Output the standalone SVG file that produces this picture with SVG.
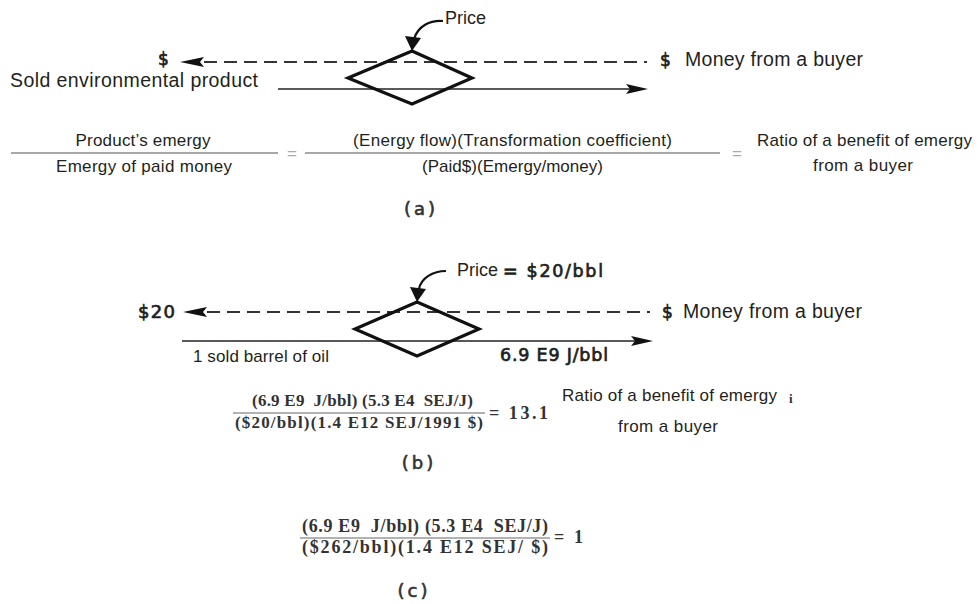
<svg xmlns="http://www.w3.org/2000/svg" width="978" height="604" viewBox="0 0 978 604">
<style>
.sans{font-family:"Liberation Sans",Arial,sans-serif;fill:#231f20}
.bold{font-family:"DejaVu Sans","Open Sans",sans-serif;fill:#231f20;stroke:#231f20;stroke-width:0.7}
.serif{font-family:"Liberation Serif","Times New Roman",serif;font-weight:bold;fill:#333}
.lbl{font-family:"DejaVu Sans","Open Sans",sans-serif;fill:#333;font-size:18px;letter-spacing:3px;stroke:#333;stroke-width:0.6}
.dash{stroke:#333;stroke-width:2;stroke-dasharray:13 7;fill:none}
.flow{stroke:#222;stroke-width:1.6;fill:none}
.head{fill:#111}
.frac{stroke:#a8a8a8;stroke-width:2}
.frac2{stroke:#999;stroke-width:1.6}
.dia{fill:none;stroke:#111;stroke-width:3.2;stroke-linejoin:miter}
.curve{fill:none;stroke:#111;stroke-width:2.2}
.eq{font-family:"Liberation Sans",Arial,sans-serif;fill:#aaa;font-size:17px}
</style>

<g id="connectors">
  <!-- (a) -->
  <path class="curve" d="M443,21 C430,20 418,26 414,39"/>
  <polygon class="head" points="412,51 405,36 421,38"/>
  <path class="dash" d="M204,62 H647"/>
  <polygon class="head" points="180,62 204,57 200,62 204,67"/>
  <path class="flow" d="M278,89 H630"/>
  <polygon class="head" points="648,89 626,84 630,89 626,94"/>
  <!-- (b) -->
  <path class="curve" d="M446,271 C433,271 421,278 419,289"/>
  <polygon class="head" points="417,302 410,287 426,289"/>
  <path class="dash" d="M207,312 H650"/>
  <polygon class="head" points="183,312 207,307 203,312 207,317"/>
  <path class="flow" d="M182,341 H635"/>
  <polygon class="head" points="653,341 631,336 635,341 631,346"/>
</g>

<g id="price-a">
  <polygon class="dia" points="412,51 472,78 412,104 348,78"/>
  <text class="sans" x="445" y="24" font-size="18" textLength="41">Price</text>
</g>
<g id="seller-a">
  <text class="bold" x="158" y="65" font-size="17">$</text>
  <text class="sans" x="10" y="87" font-size="19.5" textLength="248">Sold environmental product</text>
</g>
<g id="buyer-a">
  <text class="bold" x="660" y="66" font-size="17">$</text>
  <text class="sans" x="685" y="66" font-size="19.5" textLength="178">Money from a buyer</text>
</g>
<g id="equation-a">
  <line class="frac" x1="11" y1="153" x2="278" y2="153"/>
  <line class="frac" x1="305" y1="153" x2="720" y2="153"/>
  <text class="sans" x="143" y="146" font-size="17" text-anchor="middle" textLength="135">Product’s emergy</text>
  <text class="sans" x="144" y="172" font-size="17" text-anchor="middle" textLength="176">Emergy of paid money</text>
  <text class="eq" x="292" y="159" text-anchor="middle">=</text>
  <text class="sans" x="512.5" y="146" font-size="17" text-anchor="middle" textLength="319">(Energy flow)(Transformation coefficient)</text>
  <text class="sans" x="512.5" y="172" font-size="17" text-anchor="middle" textLength="181">(Paid$)(Emergy/money)</text>
  <text class="eq" x="737" y="159" text-anchor="middle">=</text>
  <text class="sans" x="757" y="146" font-size="17" textLength="215">Ratio of a benefit of emergy</text>
  <text class="sans" x="813" y="171" font-size="17" textLength="100">from a buyer</text>
  <text class="lbl" x="421" y="215" text-anchor="middle">(a)</text>
</g>

<g id="price-b">
  <polygon class="dia" points="417,302 479,329 417,356 355,329"/>
  <text class="sans" x="457" y="276" font-size="18" textLength="41">Price</text>
  <text class="bold" x="503" y="277" font-size="17.5" textLength="100">= $20/bbl</text>
</g>
<g id="seller-b">
  <text class="bold" x="138" y="318" font-size="18" textLength="37">$20</text>
  <text class="sans" x="193" y="362" font-size="17" textLength="136">1 sold barrel of oil</text>
</g>
<g id="buyer-b">
  <text class="bold" x="662" y="318" font-size="17">$</text>
  <text class="sans" x="683" y="318" font-size="19.5" textLength="179">Money from a buyer</text>
  <text class="bold" x="500" y="361" font-size="17.5" textLength="108">6.9 E9 J/bbl</text>
</g>
<g id="equation-b">
  <line class="frac2" x1="233" y1="413" x2="485" y2="413"/>
  <text class="serif" x="252" y="406" font-size="17" textLength="221" xml:space="preserve">(6.9 E9  J/bbl) (5.3 E4  SEJ/J)</text>
  <text class="serif" x="235" y="428" font-size="17" textLength="248">($20/bbl)(1.4 E12 SEJ/1991 $)</text>
  <text class="serif" x="489" y="419" font-size="18" textLength="59">= 13.1</text>
  <text class="sans" x="562" y="401" font-size="17" textLength="215">Ratio of a benefit of emergy</text>
  <text class="serif" x="789" y="403" font-size="13">i</text>
  <text class="sans" x="618" y="432" font-size="17" textLength="100">from a buyer</text>
  <text class="lbl" x="419" y="469" text-anchor="middle">(b)</text>
</g>

<g id="equation-c">
  <line class="frac2" x1="300" y1="538" x2="550" y2="538"/>
  <text class="serif" x="302" y="532" font-size="18" textLength="246" xml:space="preserve">(6.9 E9  J/bbl) (5.3 E4  SEJ/J)</text>
  <text class="serif" x="302" y="553" font-size="18" textLength="246">($262/bbl)(1.4 E12 SEJ/ $)</text>
  <text class="serif" x="554" y="543" font-size="18" textLength="29">= 1</text>
  <text class="lbl" x="414" y="597" text-anchor="middle">(c)</text>
</g>
</svg>
